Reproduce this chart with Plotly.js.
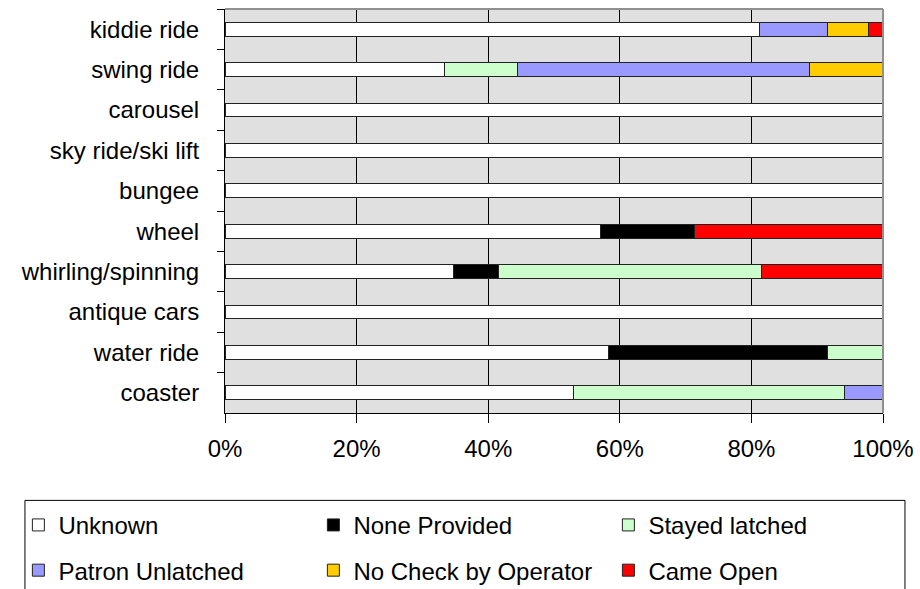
<!DOCTYPE html>
<html>
<head>
<meta charset="utf-8">
<script src="https://cdn.plot.ly/plotly-3.0.1.min.js"></script>
<style>html,body{margin:0;padding:0;background:#fff;}#chart{width:920px;height:589px;}</style>
</head>
<body>
<div id="chart"></div>
<script>
const categories = ['kiddie ride','swing ride','carousel','sky ride/ski lift','bungee','wheel','whirling/spinning','antique cars','water ride','coaster'];
const unknown         = [81.2, 33.3, 100, 100, 100, 57.1, 34.8, 100, 58.3, 52.9];
const noneProvided    = [0, 0, 0, 0, 0, 14.3, 6.8, 0, 33.3, 0];
const stayedLatched   = [0, 11.1, 0, 0, 0, 0, 39.9, 0, 8.3, 41.2];
const patronUnlatched = [10.3, 44.4, 0, 0, 0, 0, 0, 0, 0, 5.9];
const noCheck         = [6.3, 11.1, 0, 0, 0, 0, 0, 0, 0, 0];
const cameOpen        = [2.2, 0, 0, 0, 0, 28.6, 18.5, 0, 0, 0];
const seriesNames = ['Unknown','None Provided','Stayed latched','Patron Unlatched','No Check by Operator','Came Open'];
const xTickVals = [0, 20, 40, 60, 80, 100];
const xTickText = ['0%','20%','40%','60%','80%','100%'];

const seriesValues = [unknown, noneProvided, stayedLatched, patronUnlatched, noCheck, cameOpen];
const colors = ['#FFFFFF','#000000','#CCFFCC','#9999FF','#FFCC00','#FF0000'];
const legendIds = ['legend','legend','legend','legend2','legend2','legend2'];

const FONT = 'Liberation Sans, Arial, sans-serif';

const traces = seriesValues.map((vals, i) => ({
  type: 'bar',
  orientation: 'h',
  name: seriesNames[i],
  y: categories,
  x: vals,
  legend: legendIds[i],
  marker: {color: colors[i], line: {color: '#222', width: 1}},
  hoverinfo: 'name+x'
}));

const legendCommon = {
  orientation: 'h',
  xanchor: 'left',
  yanchor: 'middle',
  x: -0.314,
  entrywidth: 250,
  traceorder: 'normal',
  bgcolor: 'rgba(0,0,0,0)',
  borderwidth: 0,
  font: {family: FONT, size: 24, color: '#000'}
};

const layout = {
  width: 920,
  height: 589,
  margin: {l: 225, r: 37, t: 9, b: 176, autoexpand: false},
  paper_bgcolor: '#fff',
  plot_bgcolor: '#e0e0e0',
  barmode: 'stack',
  bargap: 0.66,
  showlegend: true,
  font: {family: FONT, size: 24, color: '#000'},
  xaxis: {
    range: [0, 100],
    tickmode: 'array',
    tickvals: xTickVals,
    ticktext: xTickText,
    showgrid: true,
    gridcolor: '#000',
    gridwidth: 1,
    zeroline: false,
    showline: true,
    linecolor: '#000',
    linewidth: 1,
    ticks: 'outside',
    ticklen: 9,
    tickcolor: '#000',
    ticklabelstandoff: 5,
    tickfont: {family: FONT, size: 24, color: '#000'},
    fixedrange: true
  },
  yaxis: {
    type: 'category',
    categoryorder: 'array',
    categoryarray: categories,
    autorange: 'reversed',
    showgrid: false,
    zeroline: false,
    showline: true,
    linecolor: '#000',
    linewidth: 1,
    ticks: 'outside',
    tickson: 'boundaries',
    ticklen: 7,
    tickcolor: '#000',
    ticklabelstandoff: 20,
    tickfont: {family: FONT, size: 24, color: '#000'},
    fixedrange: true
  },
  legend: Object.assign({}, legendCommon, {y: -0.278}),
  legend2: Object.assign({}, legendCommon, {y: -0.39}),
  shapes: [
    {type: 'line', xref: 'paper', yref: 'paper', x0: 0, x1: 1, y0: 1, y1: 1, line: {color: '#909090', width: 2}},
    {type: 'line', xref: 'paper', yref: 'paper', x0: 1, x1: 1, y0: 0, y1: 1, line: {color: '#909090', width: 2}},
    {type: 'rect', xref: 'paper', yref: 'paper', x0: -0.304, x1: 1.0334, y0: -0.2163, y1: -0.47, line: {color: '#000', width: 1}, fillcolor: 'rgba(0,0,0,0)'}
  ]
};

Plotly.newPlot('chart', traces, layout, {displayModeBar: false, staticPlot: true});
</script>
</body>
</html>
